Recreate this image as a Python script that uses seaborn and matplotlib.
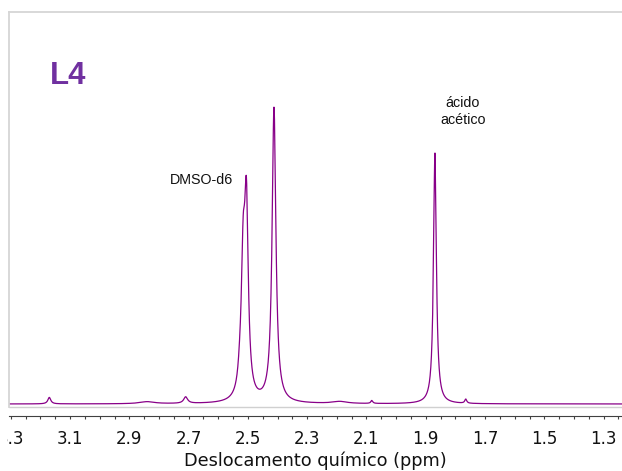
import numpy as np
import pandas as pd
import matplotlib
matplotlib.use('Agg')
import matplotlib.pyplot as plt
import seaborn as sns
from matplotlib.ticker import FixedLocator
from matplotlib.transforms import Bbox, TransformedBbox

# peak list (ppm, height relative to tallest = 100, half width in ppm)
peak_ppm = [3.170, 2.840, 2.710, 2.527, 2.516, 2.505, 2.412, 2.190, 2.082, 1.869, 1.765]
peak_height = [2.2, 0.7, 2.2, 4.0, 42.0, 62.3, 100.0, 0.7, 1.0, 85.1, 1.4]
peak_hwhm = [0.006, 0.030, 0.008, 0.008, 0.0075, 0.0075, 0.0077, 0.030, 0.004, 0.0058, 0.004]

tick_values = [3.3, 3.1, 2.9, 2.7, 2.5, 2.3, 2.1, 1.9, 1.7, 1.5, 1.3]
tick_labels = ['3.3', '3.1', '2.9', '2.7', '2.5', '2.3', '2.1', '1.9', '1.7', '1.5', '1.3']
minor_values = [1.25 + 0.05 * i for i in range(42)]

x_range = (3.306, 1.238)
y_range = (-1.02, 132.9)

# spectrum built from the peak list (lorentzian lines)
ppm = np.linspace(x_range[1], x_range[0], 6000)
intensity = np.zeros_like(ppm)
for p, h, w in zip(peak_ppm, peak_height, peak_hwhm):
	intensity += h / (1 + ((ppm - p) / w) ** 2)
spec = pd.DataFrame({'ppm': ppm, 'intensity': intensity})

sns.set_theme(style='white')
plt.rcParams['font.family'] = ['DejaVu Sans']

fig = plt.figure(figsize=(6.22, 4.71), dpi=100)
ax = fig.add_axes([9/622, 1 - 407/471, 1 - 9/622, (407 - 12)/471])

sns.lineplot(x='ppm', y='intensity', data=spec, ax=ax, color='#880088',
			 linewidth=0.9, estimator=None, sort=False)

ax.set_xlim(x_range)
ax.set_ylim(y_range)
ax.set_yticks([])
ax.set_ylabel('')

# frame: light grey box on left/top/bottom, dark tick axis a bit below
for s in ['left', 'top']:
	ax.spines[s].set_color('#d6d6d6')
	ax.spines[s].set_linewidth(1.3)
ax.spines['right'].set_visible(False)
ax.spines['bottom'].set_position(('outward', 6.5))
ax.spines['bottom'].set_color('#404040')
ax.spines['bottom'].set_linewidth(0.8)
ax.plot([0, 1], [0, 0], transform=ax.transAxes, color='#d0d0d0', lw=1.0, clip_on=False)

ax.xaxis.set_major_locator(FixedLocator(tick_values))
ax.xaxis.set_minor_locator(FixedLocator(minor_values))
ax.set_xticklabels(tick_labels)
ax.tick_params(axis='x', which='both', direction='out', length=2.4, width=0.8,
			   color='#404040', bottom=True)
ax.tick_params(axis='x', which='major', labelsize=12, pad=7.5, labelcolor='#111111')
ax.set_xlabel('Deslocamento químico (ppm)', fontsize=12.8, labelpad=2.5, color='#111111')

# first label is cut by the frame edge
clip = TransformedBbox(Bbox([[7/622, 0], [1, 1]]), fig.transFigure)
lbl = ax.get_xticklabels()[0]
lbl.set_clip_box(clip)
lbl.set_clip_on(True)

ax.text(2.658, 75.9, 'DMSO-d6', ha='center', va='center', fontsize=10.3,
		family='Liberation Sans', color='#111111')
ax.text(1.775, 99.2, 'ácido\nacético', ha='center', va='center', fontsize=10.3,
		family='Liberation Sans', color='#111111', linespacing=1.25)
ax.text(0.066, 0.838, 'L4', transform=ax.transAxes, ha='left', va='center',
		fontsize=22.4, fontweight='bold', family='Liberation Sans', color='#7030A0')

plt.savefig('out.png', dpi=100)
plt.close('all')
